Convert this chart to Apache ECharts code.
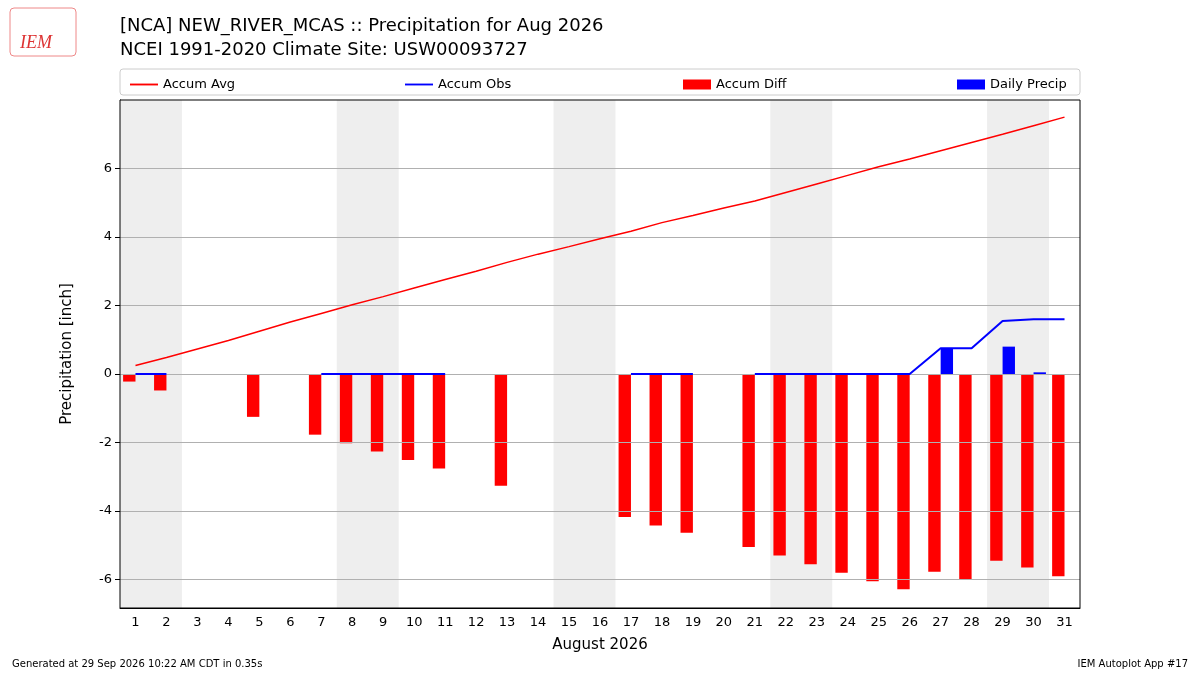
<!DOCTYPE html>
<html>
<head>
<meta charset="UTF-8">
<script src="https://cdn.jsdelivr.net/npm/echarts@6/dist/echarts.min.js"></script>
</head>
<body style="margin:0">
<div id="charts" style="width:1200px;height:675px"></div>
<script>
var days = [];
for (var d = 1; d <= 31; d++) days.push(String(d));
var accumAvg = [0.25,0.48,0.73,0.98,1.25,1.52,1.77,2.02,2.26,2.51,2.76,3.0,3.26,3.5,3.72,3.95,4.17,4.42,4.63,4.85,5.05,5.3,5.55,5.8,6.05,6.28,6.52,6.76,7.0,7.25,7.5];
var accumObs = [0,0,null,null,0,null,0,0,0,0,0,null,0,null,null,null,0,0,0,null,0,0,0,0,0,0,0.75,0.75,1.55,1.6,1.6];
var accumDiff = [-0.22,-0.48,null,null,-1.25,null,-1.77,-2.02,-2.26,-2.51,-2.76,null,-3.26,null,null,null,-4.17,-4.42,-4.63,null,-5.05,-5.3,-5.55,-5.8,-6.05,-6.28,-5.77,-6.01,-5.45,-5.65,-5.9];
var dailyPrecip = [0,0,null,null,0,null,0,0,0,0,0,null,0,null,null,null,0,0,0,null,0,0,0,0,0,0,0.75,0,0.8,0.05,0];
var weekends = [[0.5,2.5],[7.5,9.5],[14.5,16.5],[21.5,23.5],[28.5,30.5]];
var yTicks = [-6,-4,-2,0,2,4,6];

var chart = echarts.init(document.getElementById('charts'));
var font = 'DejaVu Sans';
var lineIcon = 'path://M0,0 L30,0 L30,2 L0,2 Z';
function legendAt(left, name, icon) {
    return {
        left: left, top: 73, data: [name], itemWidth: 28, itemHeight: icon ? 2 : 10, icon: icon || 'rect',
        textStyle: {fontFamily: font, fontSize: 13, color: '#000'}
    };
}
var option = {
    animation: false,
    textStyle: {fontFamily: font},
    title: [
        {text: '[NCA] NEW_RIVER_MCAS :: Precipitation for Aug 2026\nNCEI 1991-2020 Climate Site: USW00093727',
         left: 115, top: 9, textStyle: {fontFamily: font, fontSize: 18, fontWeight: 'normal', lineHeight: 24, color: '#000'}},
        {text: 'Generated at 29 Sep 2026 10:22 AM CDT in 0.35s', left: 7, top: 654,
         textStyle: {fontFamily: font, fontSize: 10, fontWeight: 'normal', color: '#000'}},
        {text: 'IEM Autoplot App #17', right: 7, top: 654,
         textStyle: {fontFamily: font, fontSize: 10, fontWeight: 'normal', color: '#000'}}
    ],
    graphic: [
        {type: 'rect', shape: {x: 120, y: 69, width: 960, height: 26, r: 3}, style: {fill: 'none', stroke: '#ccc'}},
        {type: 'rect', shape: {x: 120, y: 100, width: 960, height: 508}, style: {fill: 'none', stroke: '#000'}, z: 100},
        {type: 'text', left: 20, top: 34, style: {text: 'IEM', font: 'italic 18px Liberation Serif', fill: '#d33'}},
        {type: 'rect', shape: {x: 10, y: 8, width: 66, height: 48, r: 4}, style: {fill: 'none', stroke: '#e88'}}
    ],
    legend: [
        legendAt(125, 'Accum Avg', lineIcon),
        legendAt(400, 'Accum Obs', lineIcon),
        legendAt(678, 'Accum Diff'),
        legendAt(952, 'Daily Precip')
    ],
    grid: {left: 120, right: 120, top: 100, bottom: 67},
    xAxis: [
        {type: 'category', data: days, boundaryGap: true,
         name: 'August 2026', nameLocation: 'middle', nameGap: 30,
         nameTextStyle: {fontSize: 15, color: '#000'},
         axisLine: {onZero: false, lineStyle: {color: '#000'}},
         axisTick: {alignWithLabel: true, lineStyle: {color: '#000'}},
         axisLabel: {color: '#000', fontSize: 13}},
        {type: 'value', min: 0.5, max: 31.5, show: false}
    ],
    yAxis: {
        type: 'value', min: -6.83, max: 8,
        name: 'Precipitation [inch]', nameLocation: 'middle', nameGap: 45,
        nameTextStyle: {fontSize: 15, color: '#000'},
        axisLine: {show: true, lineStyle: {color: '#000'}},
        axisTick: {show: true, customValues: yTicks, lineStyle: {color: '#000'}},
        axisLabel: {customValues: yTicks, color: '#000', fontSize: 13},
        splitLine: {show: false}
    },
    series: [
        {type: 'line', xAxisIndex: 1, data: [], silent: true, z: 0,
         markArea: {silent: true, itemStyle: {color: '#eee'},
            data: weekends.map(function (w) { return [{xAxis: w[0]}, {xAxis: w[1]}]; })},
         markLine: {silent: true, symbol: 'none', label: {show: false},
            lineStyle: {color: '#b0b0b0', type: 'solid', width: 1},
            data: yTicks.map(function (v) { return {yAxis: v}; })}},
        {name: 'Accum Diff', type: 'bar', data: accumDiff, barWidth: '40%', barGap: '0%', itemStyle: {color: '#ff0000'}, z: 3},
        {name: 'Daily Precip', type: 'bar', data: dailyPrecip, barWidth: '40%', barGap: '0%', itemStyle: {color: '#0000ff'}, z: 3},
        {name: 'Accum Avg', type: 'line', data: accumAvg, symbol: 'none', z: 10, lineStyle: {color: '#ff0000', width: 1.5}, itemStyle: {color: '#ff0000'}},
        {name: 'Accum Obs', type: 'line', data: accumObs, symbol: 'none', z: 10, connectNulls: false, lineStyle: {color: '#0000ff', width: 2}, itemStyle: {color: '#0000ff'}}
    ]
};
chart.setOption(option, true);
</script>
</body>
</html>
